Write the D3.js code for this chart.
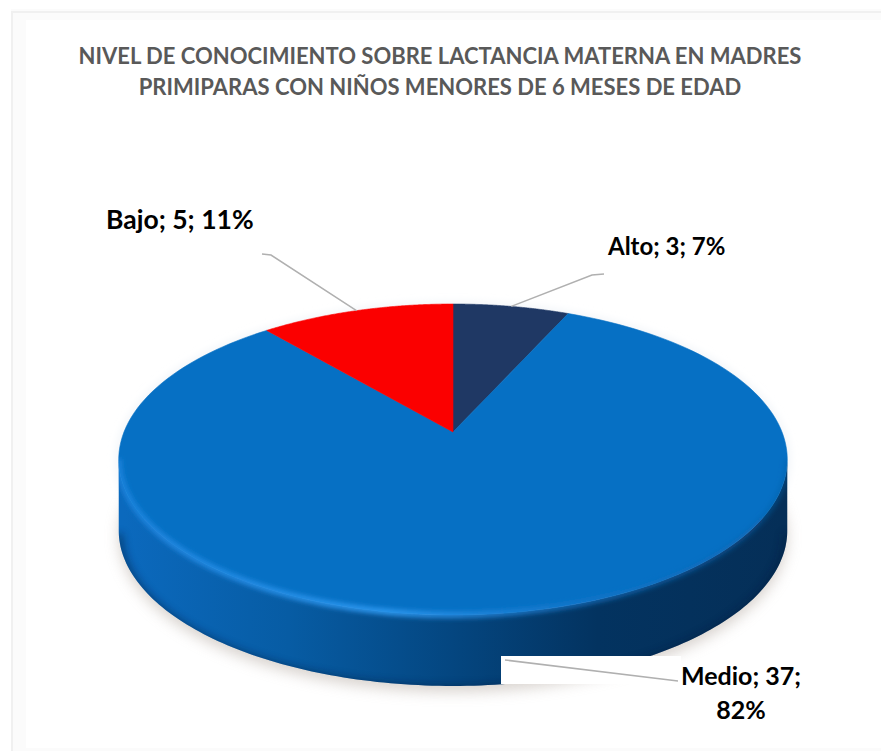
<!DOCTYPE html>
<html><head><meta charset="utf-8">
<script src="https://cdn.jsdelivr.net/npm/d3@7/dist/d3.min.js"></script>
<style>html,body{margin:0;padding:0;background:#fff}svg{display:block}text{font-family:Lato,"Open Sans",sans-serif;font-weight:700}</style>
</head><body><svg id="c" width="881" height="751"></svg>
<script>
const categories = ["Alto","Medio","Bajo"];
const values = [3,37,5];
const colors = ["#1f3864","#0670c4","#fb0000"];
const titleLines = ["NIVEL DE CONOCIMIENTO SOBRE LACTANCIA MATERNA EN MADRES","PRIMIPARAS CON NIÑOS MENORES DE 6 MESES DE EDAD"];

const svg = d3.select("#c");
const defs = svg.append("defs");
const W=881,H=751;
// perspective projection of the pie disc
const cx=453, cy=432, kx=329, ky=150.6, persp=0.1768, depth=71;
const proj=(t,r=1)=>{const u=r*Math.sin(t),v=r*Math.cos(t),d=1+persp*v;return [cx+kx*u/d,cy-ky*v/d];};
const total=d3.sum(values);
const arcs=d3.pie().sort(null).value(d=>d)(values);
const line=d3.line();
const sample=(a,b,n=160)=>d3.range(n+1).map(i=>proj(a+(b-a)*i/n));
const outline=sample(0,2*Math.PI,360);
const outlineD=line(outline)+"Z";
// front part of the rim, between horizontal extremes
const iR=d3.scan(outline,(a,b)=>b[0]-a[0]), iL=d3.scan(outline,(a,b)=>a[0]-b[0]);
const front=outline.slice(iR,iL+1);
const sideD=line(front.concat(front.slice().reverse().map(p=>[p[0],p[1]+depth])))+"Z";

// frame: soft, pale double band on top and left, faint strip at the bottom
svg.append("rect").attr("width",W).attr("height",H).attr("fill","#fff");
const frame=svg.append("g").attr("fill","#fbfbfb");
frame.append("rect").attr("x",11).attr("y",9).attr("width",W-11).attr("height",11);
frame.append("rect").attr("x",11).attr("y",9).attr("width",15).attr("height",H-12);
frame.append("rect").attr("x",11).attr("y",H-3).attr("width",W-11).attr("height",3);
svg.append("rect").attr("x",26).attr("y",20).attr("width",W-26).attr("height",H-23).attr("fill","#fff");
svg.append("path").attr("d",`M${W},12H12V${H}`).attr("fill","none").attr("stroke","#f0f0f0").attr("stroke-width",2);

// defs
const blur=(id,s)=>defs.append("filter").attr("id",id).attr("x","-20%").attr("y","-20%").attr("width","140%").attr("height","140%").append("feGaussianBlur").attr("stdDeviation",s);
blur("b8",7);blur("b4",4);blur("b3",2.6);blur("b1",.6);
const sideG=defs.append("linearGradient").attr("id","sideG").attr("gradientUnits","userSpaceOnUse")
 .attr("x1",cx-kx).attr("x2",cx+kx).attr("y1",0).attr("y2",0);
[[0,"#0b69bd"],[.25,"#075ca4"],[.5,"#044680"],[.72,"#033360"],[1,"#052f58"]].forEach(s=>sideG.append("stop").attr("offset",s[0]).attr("stop-color",s[1]));
defs.append("clipPath").attr("id","bodyClip").append("path").attr("d",sideD+" "+outlineD);
defs.append("clipPath").attr("id","sideClip").append("path").attr("d",sideD);

// shadow
svg.append("path").attr("d",line(outline.map(p=>[p[0],p[1]+depth+6]))+"Z").attr("fill","#cfc8c2").attr("opacity",.8).attr("filter","url(#b8)");
svg.append("path").attr("d",outlineD).attr("transform","translate(0,1)").attr("fill","none").attr("stroke","#e8eef4").attr("stroke-width",4).attr("filter","url(#b4)");

// side wall
svg.append("path").attr("d",sideD).attr("fill","url(#sideG)");
const sideLayer=svg.append("g").attr("clip-path","url(#sideClip)");
sideLayer.append("path").attr("d",line(front.map(p=>[p[0],p[1]+depth+4]))).attr("fill","none").attr("stroke","#021d3c").attr("stroke-width",8).attr("opacity",.55).attr("filter","url(#b4)");

// faces
const faceG=svg.append("g");
arcs.forEach((a,i)=>{
  const pts=[[cx,cy],...sample(a.startAngle,a.endAngle)];
  faceG.append("path").attr("d",line(pts)+"Z").attr("fill",colors[i]).attr("stroke",colors[i]).attr("stroke-width",.6);
});
// highlight rim at the front edge
const rimGrad=defs.append("linearGradient").attr("id","rimG").attr("gradientUnits","userSpaceOnUse").attr("x1",cx-kx).attr("x2",cx+kx).attr("y1",0).attr("y2",0);
[[0,"#1f86e0",.9],[.4,"#2f9af2",1],[.7,"#1a78cc",.7],[1,"#0d5fa8",.45]].forEach(s=>rimGrad.append("stop").attr("offset",s[0]).attr("stop-color",s[1]).attr("stop-opacity",s[2]));
svg.append("g").attr("clip-path","url(#bodyClip)").append("path").attr("d",line(front)).attr("fill","none").attr("stroke","url(#rimG)").attr("stroke-width",6).attr("filter","url(#b3)");

// white patch behind the Medio leader
svg.append("rect").attr("x",501).attr("y",656).attr("width",180).attr("height",28).attr("fill","#fff");

// leaders, anchored on each slice's mid angle
const leaders=[
 {i:0,tip:[[604,274],[592,275]],t:.5},
 {i:1,tip:[[678,681]],t:null,start:[505,660]},
 {i:2,tip:[[262,254],[271,255]],t:.5}
];
leaders.forEach(l=>{
  const a=arcs[l.i];
  const s=l.start||proj(a.startAngle+(a.endAngle-a.startAngle)*l.t);
  svg.append("path").attr("d",line([s,...l.tip.slice().reverse()])).attr("fill","none").attr("stroke","#b0b0b0").attr("stroke-width",1.5).attr("filter","url(#b1)");
});

const title=svg.append("g").attr("text-anchor","middle").attr("fill","#595959").style("font-size","22px");
titleLines.forEach((t,i)=>title.append("text").attr("x",440).attr("y",64+i*31).text(t));

const pct=v=>Math.round(v/total*100)+"%";
const lab=i=>`${categories[i]}; ${values[i]};`;
const lbl=svg.append("g").attr("fill","#000").style("font-size","25px");
lbl.append("text").attr("x",106).attr("y",229).style("font-size","26.5px").text(`${lab(2)} ${pct(values[2])}`);
lbl.append("text").attr("x",608).attr("y",255).style("font-size","24px").text(`${lab(0)} ${pct(values[0])}`);
lbl.append("text").attr("x",741).attr("y",685).attr("text-anchor","middle").text(lab(1));
lbl.append("text").attr("x",741).attr("y",719).attr("text-anchor","middle").text(pct(values[1]));
</script></body></html>
